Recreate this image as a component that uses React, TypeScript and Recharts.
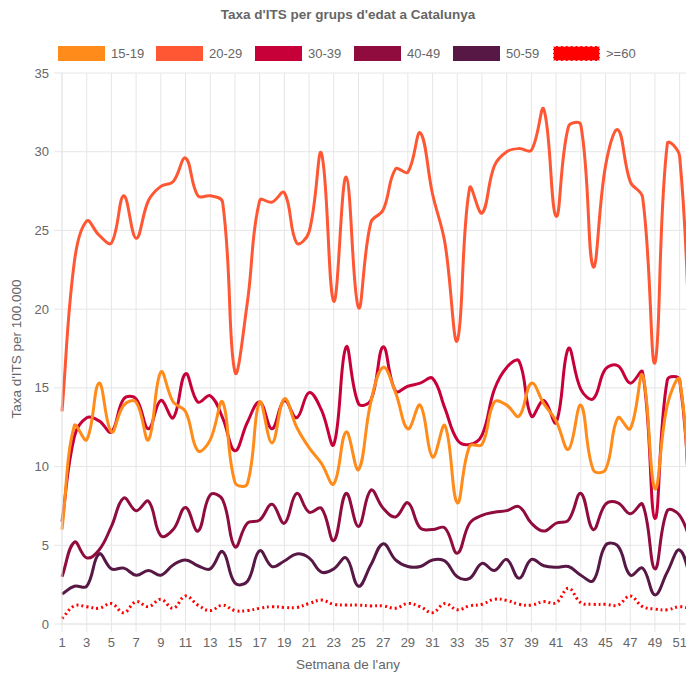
import React from 'react';
import { LineChart, Line, XAxis, YAxis, CartesianGrid } from 'recharts';

const weeks = Array.from({ length: 52 }, (_, i) => i + 1);
const xTicks = [1, 3, 5, 7, 9, 11, 13, 15, 17, 19, 21, 23, 25, 27, 29, 31, 33, 35, 37, 39, 41, 43, 45, 47, 49, 51];
const yTicks = [0, 5, 10, 15, 20, 25, 30, 35];

const s1519 = [6.0, 12.6, 11.7, 15.3, 12.2, 13.9, 14.1, 11.7, 16.0, 14.1, 13.5, 11.0, 11.7, 14.1, 9.0, 8.9, 14.1, 11.5, 14.3, 12.5, 11.2, 10.2, 8.9, 12.2, 9.8, 14.1, 16.3, 14.7, 12.4, 13.9, 10.6, 12.6, 7.7, 11.3, 11.4, 14.1, 13.9, 13.2, 15.3, 14.0, 12.9, 11.1, 13.9, 9.8, 9.8, 13.1, 12.4, 15.8, 8.6, 13.9, 15.5, 4.5];
const s2029 = [13.5, 23.0, 25.6, 24.7, 24.2, 27.2, 24.5, 26.9, 27.8, 28.1, 29.6, 27.2, 27.2, 26.8, 16.0, 20.4, 26.9, 26.8, 27.4, 24.2, 24.9, 29.9, 20.5, 28.4, 20.1, 25.5, 26.3, 28.9, 28.7, 31.2, 27.3, 24.2, 18.0, 27.7, 26.1, 29.1, 30.0, 30.2, 30.1, 32.7, 25.9, 31.6, 31.7, 22.7, 29.1, 31.4, 28.1, 27.1, 16.6, 30.5, 29.7, 13.5];
const s3039 = [6.5, 11.9, 13.1, 12.9, 12.2, 14.3, 14.3, 12.4, 14.2, 13.1, 15.9, 14.1, 14.5, 13.1, 11.0, 12.8, 14.1, 12.4, 14.2, 13.1, 14.7, 13.6, 11.4, 17.6, 14.0, 14.2, 17.6, 14.8, 15.1, 15.3, 15.6, 13.7, 11.7, 11.4, 12.0, 14.9, 16.3, 16.7, 13.2, 14.2, 12.8, 17.5, 14.9, 14.3, 16.2, 16.4, 15.3, 16.0, 6.7, 15.5, 15.5, 4.5];
const s4049 = [3.0, 5.2, 4.2, 4.7, 6.2, 8.0, 7.2, 7.8, 5.6, 6.0, 7.4, 5.9, 8.2, 7.9, 4.9, 6.4, 6.6, 7.6, 6.4, 8.3, 7.1, 7.35, 5.3, 8.3, 6.2, 8.5, 7.35, 6.8, 7.7, 6.1, 6.0, 6.1, 4.5, 6.4, 6.9, 7.1, 7.2, 7.45, 6.4, 5.9, 6.4, 6.6, 8.3, 6.0, 7.6, 7.7, 7.0, 7.6, 3.5, 7.2, 6.9, 5.0];
const s5059 = [1.9, 2.4, 2.4, 4.45, 3.5, 3.55, 3.1, 3.4, 3.1, 3.75, 4.07, 3.7, 3.5, 4.6, 2.6, 2.7, 4.65, 3.65, 4.0, 4.45, 4.2, 3.3, 3.5, 4.2, 2.4, 3.75, 5.1, 4.07, 3.65, 3.65, 4.07, 4.0, 3.0, 2.9, 3.85, 3.4, 4.1, 2.9, 4.1, 3.7, 3.6, 3.65, 3.1, 2.75, 5.0, 4.95, 3.1, 3.55, 1.85, 3.3, 4.7, 2.6];
const s60 = [0.35, 1.15, 1.1, 1.0, 1.3, 0.72, 1.42, 1.1, 1.57, 1.0, 1.78, 1.2, 0.85, 1.2, 0.85, 0.85, 1.0, 1.1, 1.05, 1.05, 1.3, 1.52, 1.25, 1.2, 1.2, 1.15, 1.15, 1.0, 1.3, 1.1, 0.72, 1.3, 0.9, 1.15, 1.25, 1.57, 1.5, 1.25, 1.2, 1.42, 1.35, 2.27, 1.35, 1.25, 1.25, 1.2, 1.78, 1.1, 0.95, 0.9, 1.1, 0.95];

const seriesNames = ['15-19', '20-29', '30-39', '40-49', '50-59', '>=60'];
const seriesValues = [s1519, s2029, s3039, s4049, s5059, s60];
const seriesColors = ['#FF8C1A', '#FF5733', '#C70039', '#900C3F', '#581845', '#FF0000'];

const data = weeks.map((w, i) => {
  const row: any = { week: w };
  seriesNames.forEach((n, k) => { row[n] = seriesValues[k][i]; });
  return row;
});

const FONT = '"Liberation Sans", Arial, Helvetica, sans-serif';
const TEXT = '#666';
const GRID = '#e6e6e6';

// Chart.js-like spline (tension 0.4)
const TENSION = 0.4;
function chartJsCurve(context: any) {
  let xs: number[] = [];
  let ys: number[] = [];
  return {
    areaStart() {},
    areaEnd() {},
    lineStart() { xs = []; ys = []; },
    point(x: number, y: number) { xs.push(+x); ys.push(+y); },
    lineEnd() {
      const n = xs.length;
      if (n === 0) return;
      context.moveTo(xs[0], ys[0]);
      if (n === 1) return;
      const cp: number[][] = [];
      for (let i = 0; i < n; i++) {
        const pi = i > 0 ? i - 1 : i;
        const ni = i < n - 1 ? i + 1 : i;
        const d01 = Math.hypot(xs[i] - xs[pi], ys[i] - ys[pi]);
        const d12 = Math.hypot(xs[ni] - xs[i], ys[ni] - ys[i]);
        let s01 = d01 / (d01 + d12);
        let s12 = d12 / (d01 + d12);
        if (!isFinite(s01)) s01 = 0;
        if (!isFinite(s12)) s12 = 0;
        const fa = TENSION * s01;
        const fb = TENSION * s12;
        const dx = xs[ni] - xs[pi];
        const dy = ys[ni] - ys[pi];
        cp.push([xs[i] - fa * dx, ys[i] - fa * dy, xs[i] + fb * dx, ys[i] + fb * dy]);
      }
      for (let i = 1; i < n; i++) {
        context.bezierCurveTo(cp[i - 1][2], cp[i - 1][3], cp[i][0], cp[i][1], xs[i], ys[i]);
      }
    },
  };
}

const legendLefts = [58, 156, 255, 354, 453, 553];

export default function App() {
  const order = [5, 4, 3, 2, 1, 0];
  return (
    <div style={{ position: 'absolute', left: 0, top: 0, width: 686, height: 677, overflow: 'hidden', background: '#fff', fontFamily: FONT }}>
      <div style={{ position: 'absolute', left: 148, width: 400, top: 7, textAlign: 'center', fontWeight: 'bold', fontSize: 13.5, lineHeight: '16px', color: TEXT }}>
        Taxa d'ITS per grups d'edat a Catalunya
      </div>
      {seriesNames.map((n, k) => (
        <div key={n} style={{ position: 'absolute', left: legendLefts[k], top: 46, height: 15, display: 'flex', alignItems: 'center' }}>
          <div style={{
            width: 45, height: 13, background: seriesColors[k],
            border: k === 5 ? '1px dashed #ffb0b0' : `1px solid ${seriesColors[k]}80`,
            boxSizing: 'content-box',
          }} />
          <span style={{ marginLeft: 6, fontSize: 13, color: TEXT, lineHeight: '15px' }}>{n}</span>
        </div>
      ))}
      <div style={{ position: 'absolute', left: 17, top: 349, transform: 'translate(-50%, -50%) rotate(-90deg)', whiteSpace: 'nowrap', fontSize: 13.5, color: TEXT, lineHeight: '16px' }}>
        Taxa d'ITS per 100.000
      </div>
      <div style={{ position: 'absolute', left: 248, width: 200, top: 657, textAlign: 'center', fontSize: 13.5, color: TEXT, lineHeight: '16px' }}>
        Setmana de l'any
      </div>
      <div style={{ position: 'absolute', left: 0, top: 0 }}>
        <LineChart width={700} height={677} data={data} margin={{ top: 73, right: 8, left: 0, bottom: 0 }}>
          <CartesianGrid stroke={GRID} strokeWidth={1} />
          <XAxis
            dataKey="week"
            type="number"
            domain={[1, 52]}
            ticks={xTicks}
            interval={0}
            height={53}
            tickSize={8}
            tickMargin={6}
            axisLine={{ stroke: GRID }}
            tickLine={{ stroke: GRID }}
            tick={{ fill: TEXT, fontSize: 13, fontFamily: FONT }}
          />
          <YAxis
            type="number"
            domain={[0, 35]}
            ticks={yTicks}
            interval={0}
            width={62}
            tickSize={8}
            tickMargin={5}
            axisLine={{ stroke: GRID }}
            tickLine={{ stroke: GRID }}
            tick={{ fill: TEXT, fontSize: 13, fontFamily: FONT }}
          />
          {order.map((k) => (
            <Line
              key={seriesNames[k]}
              dataKey={seriesNames[k]}
              name={seriesNames[k]}
              type={chartJsCurve as any}
              stroke={seriesColors[k]}
              strokeWidth={3}
              strokeDasharray={k === 5 ? '2 3' : undefined}
              dot={false}
              activeDot={false}
              isAnimationActive={false}
            />
          ))}
        </LineChart>
      </div>
    </div>
  );
}
